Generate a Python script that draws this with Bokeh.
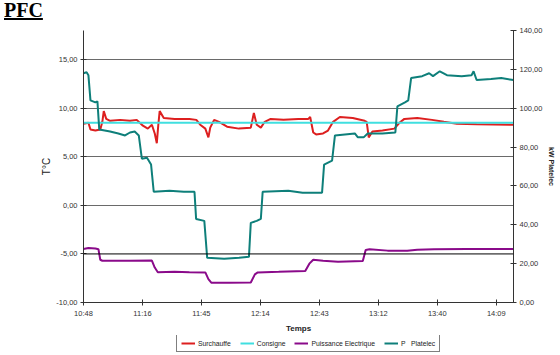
from bokeh.plotting import figure
from bokeh.models import Range1d, LinearAxis, FixedTicker, Legend, LegendItem, Div, Span
from bokeh.embed import file_html
from bokeh.resources import INLINE

# ---- data (time in minutes after 10:48) ----
tick_pos = [0, 28.8, 57.6, 86.4, 115.2, 144.0, 172.8, 201.6]
tick_labels = ["10:48", "11:16", "11:45", "12:14", "12:43", "13:12", "13:40", "14:09"]

surch_t = [0, 2.4, 3.4, 5.8, 8.2, 9.2, 9.9, 11.1, 13, 17.9, 22.7, 26, 29, 31.4, 33.4, 34.8, 35.8, 36.5,
           37.2, 39.2, 44.5, 51.7, 55.1, 57, 59.5, 61, 61.9, 63.8, 66.2, 70.1, 75.9, 81.7, 83.2, 84.6,
           86.6, 88.5, 91.4, 97.7, 104.9, 109.8, 110.7, 112.2, 113.6, 117, 119.4, 121.9, 125.2, 131.5,
           137.3, 138.3, 139.3, 141.1, 146, 151.8, 154.3, 156.7, 163, 170.2, 176, 182.3, 192, 210]
surch_v = [8.4, 8.5, 7.8, 7.7, 7.8, 8.6, 9.7, 8.9, 8.7, 8.8, 8.7, 8.8, 8.2, 7.9, 8.3, 7.4, 6.4, 8.2,
           9.7, 9.0, 8.9, 8.9, 8.8, 8.3, 7.9, 7.0, 8.0, 8.8, 8.6, 8.1, 7.9, 8.0, 9.5, 8.3,
           8.0, 8.6, 8.9, 8.8, 8.9, 8.9, 9.1, 7.5, 7.3, 7.4, 7.7, 8.6, 9.1, 9.0,
           8.7, 8.6, 7.0, 7.6, 7.7, 7.9, 8.5, 8.9, 9.0, 8.8, 8.6, 8.4, 8.35, 8.3]

consigne_t = [0, 50, 100, 150, 210]
consigne_v = [8.5, 8.5, 8.5, 8.5, 8.5]

puiss_t = [0, 2.4, 5.8, 7.3, 8.2, 9.2, 22.7, 33.4, 34.8, 36.3, 44.5, 51.7, 59.5, 61, 62.4, 71, 81.7,
           83.7, 85.1, 95.3, 108.3, 110.3, 112.2, 117, 124.3, 136.4, 137.8, 139.7, 148.5, 158.1, 163,
           171.2, 187.1, 210]
puiss_v = [27.5, 28, 27.8, 27.4, 22, 21.5, 21.5, 21.6, 18, 15.6, 15.8, 15.6, 15.5, 12, 10.2, 10.2, 10.3,
           14.5, 15.5, 15.8, 16.2, 20, 22, 21.5, 21, 21.3, 27, 27.4, 26.7, 26.6, 27.1,
           27.4, 27.5, 27.5]

plat_t = [0, 1.5, 2.4, 3.4, 5.8, 6.8, 7.7, 13, 17, 20.3, 22.7, 25, 27, 28.5, 31, 33, 34.3, 42, 49, 54.2,
          55, 59, 60.4, 68.7, 76, 80.8, 81.7, 84.6, 86.6, 87.5, 100, 107, 116.5, 117.5, 121.4, 122.8,
          132.5, 134, 136.8, 138.8, 146, 152.3, 153.3, 157, 158.6, 160, 165.4, 168.8, 170.7, 174,
          177.5, 184.7, 189.5, 190.5, 192, 199, 204, 210]
plat_v = [118, 118.5, 117, 104, 103, 103.5, 89, 88, 87, 86, 87.5, 88, 86, 74, 74.5, 71, 57, 57.5, 57, 57,
          43, 42, 23, 22.5, 23, 23.5, 41, 42, 43, 57, 57.5, 56.5, 56.5, 71, 73, 86,
          87, 85, 85, 87, 87, 87.5, 101, 103, 104, 115.5, 116.5, 118, 116.5, 119,
          117, 116.5, 117, 119, 114.5, 115, 115.5, 114.5]

series_names = ["Surchauffe", "Consigne", "Puissance Electrique", "P   Platelec"]
series_colors = ["#dd1f1f", "#40dfe0", "#8a0a8a", "#0e7f7a"]
series_data = [(surch_t, surch_v), (consigne_t, consigne_v), (puiss_t, puiss_v), (plat_t, plat_v)]

left_ticks = [-10, -5, 0, 5, 10, 15]
right_ticks = [0, 20, 40, 60, 80, 100, 120, 140]

FONT = "Liberation Sans"

p = figure(width=558, height=315, x_range=Range1d(0, 210), y_range=Range1d(-10, 18),
           output_backend="svg", toolbar_location=None,
           min_border_left=83, min_border_right=41, min_border_top=10, min_border_bottom=30)
p.outline_line_color = None
p.extra_y_ranges = {"kw": Range1d(0, 140)}

# grid
p.xgrid.visible = False
p.ygrid.ticker = FixedTicker(ticks=[0, 5, 10, 15])
p.ygrid.grid_line_color = "#6a6a6a"
p.ygrid.grid_line_width = 1
p.add_layout(Span(location=-5, dimension="width", line_color="#000000", line_width=1))

def style_axis(ax):
    ax.axis_line_color = "#333333"
    ax.major_tick_line_color = "#333333"
    ax.minor_tick_line_color = None
    ax.major_tick_in = 3
    ax.major_tick_out = 3
    ax.major_label_text_font = FONT
    ax.major_label_text_font_size = "7.5px"
    ax.major_label_text_color = "#333333"
    ax.major_label_standoff = 3
    ax.axis_label_text_font = FONT
    ax.axis_label_text_color = "#222222"
    ax.axis_label_standoff = 4

# x axis
xa = p.xaxis[0]
xa.ticker = FixedTicker(ticks=tick_pos)
xa.major_label_overrides = {t: l for t, l in zip(tick_pos, tick_labels)}
xa.axis_label = "Temps"
style_axis(xa)
xa.axis_label_text_font_size = "8px"
xa.axis_label_text_font_style = "bold"
xa.axis_label_standoff = 3

# left axis
ya = p.yaxis[0]
ya.ticker = FixedTicker(ticks=left_ticks)
ya.major_label_overrides = {t: f"{t:.2f}".replace(".", ",") for t in left_ticks}
ya.axis_label = "T°C"
style_axis(ya)
ya.axis_label_text_font_size = "10px"
ya.axis_label_text_font_style = "normal"
ya.axis_label_standoff = 1

# right axis
ra = LinearAxis(y_range_name="kw", axis_label="kW Platelec")
ra.ticker = FixedTicker(ticks=right_ticks)
ra.major_label_overrides = {t: f"{t:.2f}".replace(".", ",") for t in right_ticks}
style_axis(ra)
ra.axis_label_text_font_size = "7px"
ra.axis_label_text_font_style = "bold"
ra.axis_label_standoff = 3
p.add_layout(ra, "right")

# lines
p.line(surch_t, surch_v, line_color=series_colors[0], line_width=2)
p.line(consigne_t, consigne_v, line_color=series_colors[1], line_width=2)
p.line(puiss_t, puiss_v, line_color=series_colors[2], line_width=2, y_range_name="kw")
p.line(plat_t, plat_v, line_color=series_colors[3], line_width=2, y_range_name="kw")

# legend strip (separate small canvas below the chart; its own lines lie outside its view)
lg = figure(width=558, height=18, x_range=Range1d(0, 210), y_range=Range1d(1000, 1001),
            output_backend="svg", toolbar_location=None,
            min_border_left=0, min_border_right=0, min_border_top=0, min_border_bottom=0)
lg.axis.visible = False
lg.grid.visible = False
lg.outline_line_color = None
items = []
for name, col, (tx, vy) in zip(series_names, series_colors, series_data):
    r = lg.line(tx, vy, line_color=col, line_width=2)
    items.append(LegendItem(label=name, renderers=[r]))
legend = Legend(items=items, orientation="horizontal", location=(176, 1))
legend.label_text_font = FONT
legend.label_text_font_size = "6.8px"
legend.label_text_color = "#222222"
legend.label_standoff = 3
legend.glyph_width = 14
legend.glyph_height = 8
legend.label_height = 8
legend.spacing = 9
legend.padding = 4
legend.margin = 0
legend.border_line_color = "#000000"
legend.border_line_width = 1
legend.background_fill_color = "white"
lg.add_layout(legend, "center")

title = Div(text="<u>PFC</u>", width=120, height=19, margin=(1, 0, 0, 4),
            styles={"font-family": "Liberation Serif", "font-size": "20px", "font-weight": "bold",
                    "line-height": "19px"})

open("out.html", "w").write(file_html([title, p, lg], INLINE))
